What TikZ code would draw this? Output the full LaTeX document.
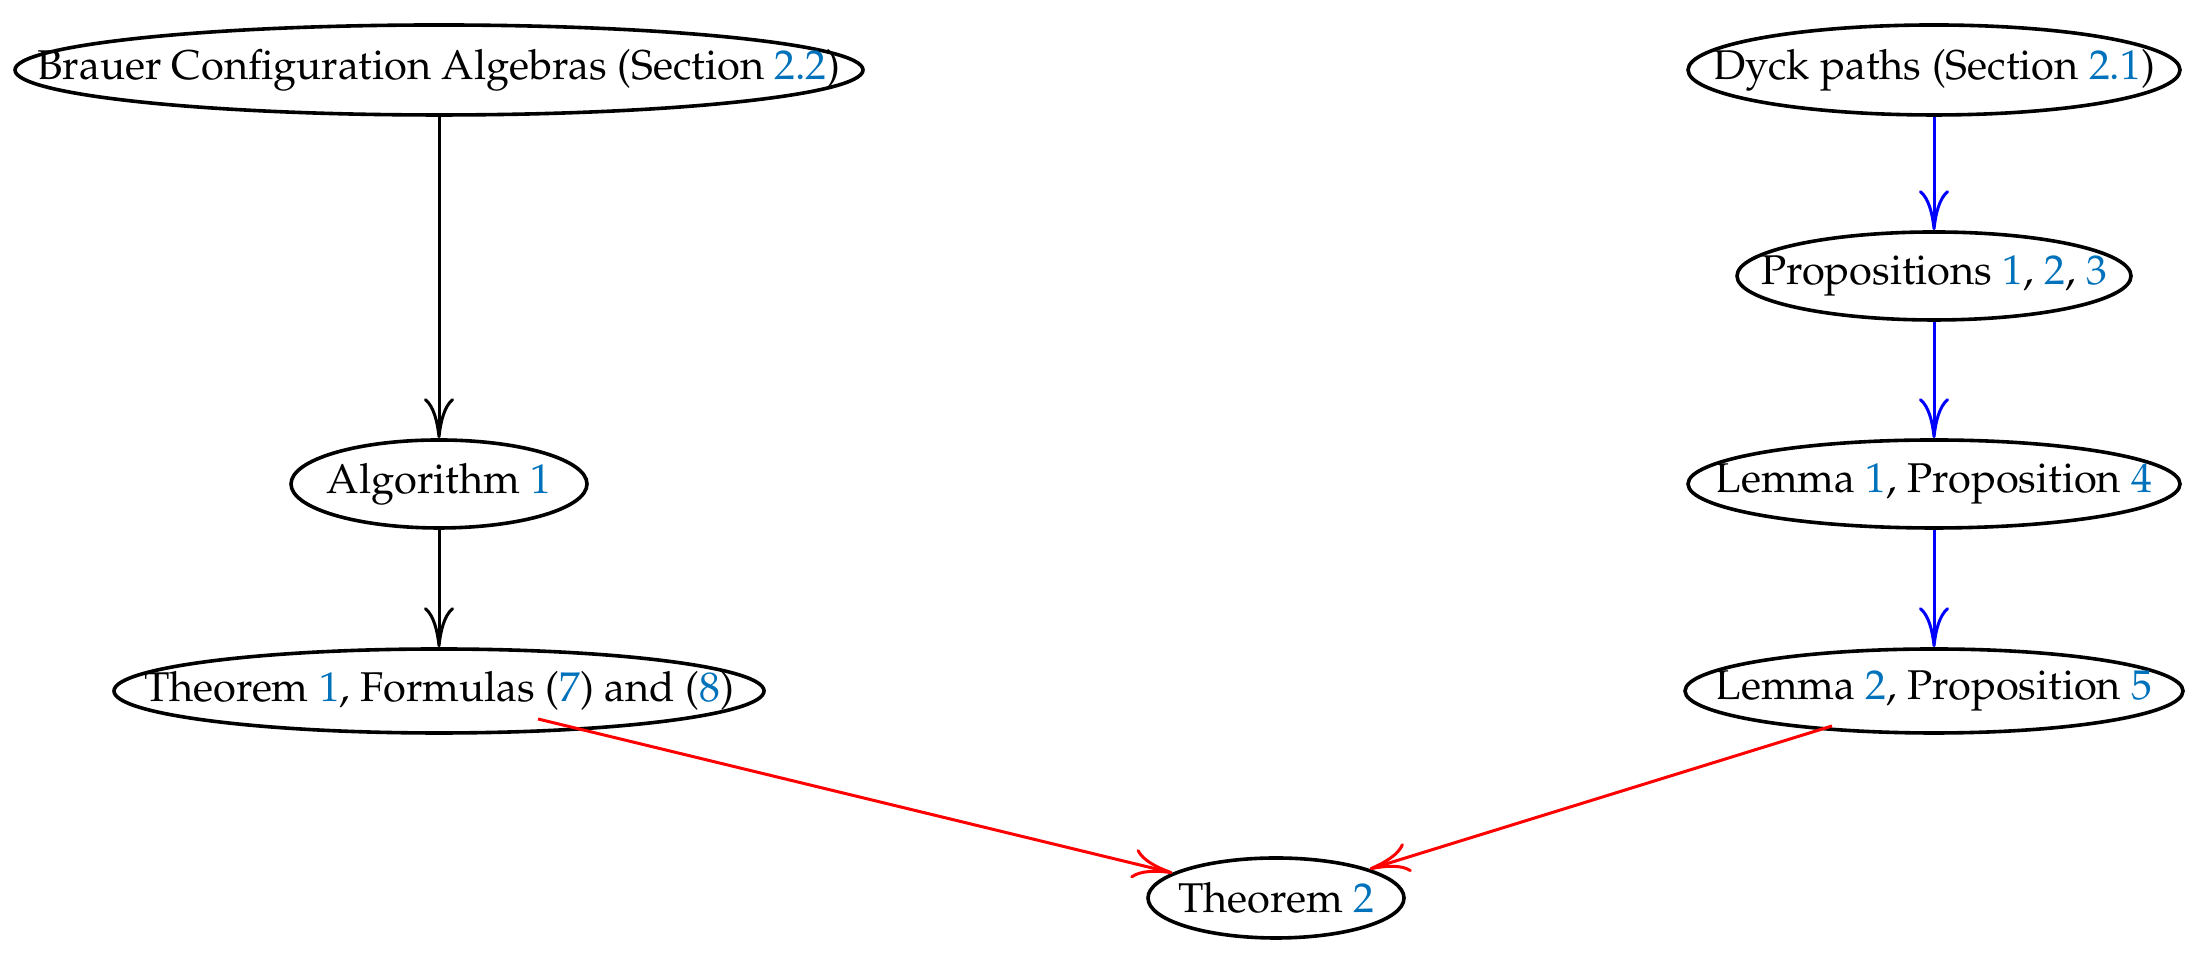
\documentclass[tikz,border=0pt]{standalone}
\usepackage[T1]{fontenc}
\usepackage{mathpazo}
\usetikzlibrary{
  shapes.geometric,
  arrows.meta,
}
\definecolor{refBlue}{RGB}{0,114,187}
\definecolor{edgeBlue}{RGB}{0,0,255}
\definecolor{edgeRed}{RGB}{255,0,0}
\newcommand{\rf}[1]{\textcolor{refBlue}{#1}}
\newcommand{\ctext}[1]{\makebox[0pt]{#1}}
\tikzset{
  resnode/.style={
    ellipse, draw=black, line width=0.9pt, inner sep=0pt,
    font=\fontsize{10.4}{12.5}\selectfont,
  },
  blackarrow/.style={-{To[length=10pt,width=7.5pt]}, black, line width=0.75pt},
  bluearrow/.style={-{To[length=10pt,width=7.5pt]}, edgeBlue, line width=0.75pt},
  redarrow/.style={-{To[length=10pt,width=7.5pt]}, edgeRed, line width=0.75pt},
}

\begin{document}
\begin{tikzpicture}[x=25pt, y=25pt]
  \useasboundingbox (0,0) rectangle (22.01,9.59);

  % Brauer branch
  \node[resnode, minimum width=212pt, minimum height=22.5pt] (brauer) at (4.39,8.89) {\ctext{Brauer Configuration Algebras (Section \rf{2.2})}};
  \node[resnode, minimum width=74pt, minimum height=22pt] (alg) at (4.39,4.75) {\ctext{Algorithm \rf{1}}};
  \node[resnode, minimum width=162.5pt, minimum height=21pt] (thmA) at (4.39,2.68) {\ctext{Theorem \rf{1}, Formulas (\rf{7}) and (\rf{8})}};

  \draw[blackarrow] (brauer) -- (alg);
  \draw[blackarrow] (alg) -- (thmA);

  % Dyck branch
  \node[resnode, minimum width=123pt, minimum height=22.5pt] (dyck) at (19.34,8.89) {\ctext{Dyck paths (Section \rf{2.1})}};
  \node[resnode, minimum width=98.5pt, minimum height=22pt] (props) at (19.34,6.83) {\ctext{Propositions \rf{1}, \rf{2}, \rf{3}}};
  \node[resnode, minimum width=123pt, minimum height=22pt] (lemA) at (19.34,4.75) {\ctext{Lemma \rf{1}, Proposition \rf{4}}};
  \node[resnode, minimum width=124.5pt, minimum height=21pt] (lemB) at (19.34,2.68) {\ctext{Lemma \rf{2}, Proposition \rf{5}}};

  \draw[bluearrow] (dyck) -- (props);
  \draw[bluearrow] (props) -- (lemA);
  \draw[bluearrow] (lemA) -- (lemB);

  % main result
  \node[resnode, minimum width=64pt, minimum height=20pt] (thmB) at (12.76,0.61) {\ctext{Theorem \rf{2}}};

  \draw[redarrow] ([shift={(0.99,-0.28)}]thmA.center) -- (thmB);
  \draw[redarrow] ([shift={(-1.02,-0.35)}]lemB.center) -- (thmB);

\end{tikzpicture}
\end{document}
